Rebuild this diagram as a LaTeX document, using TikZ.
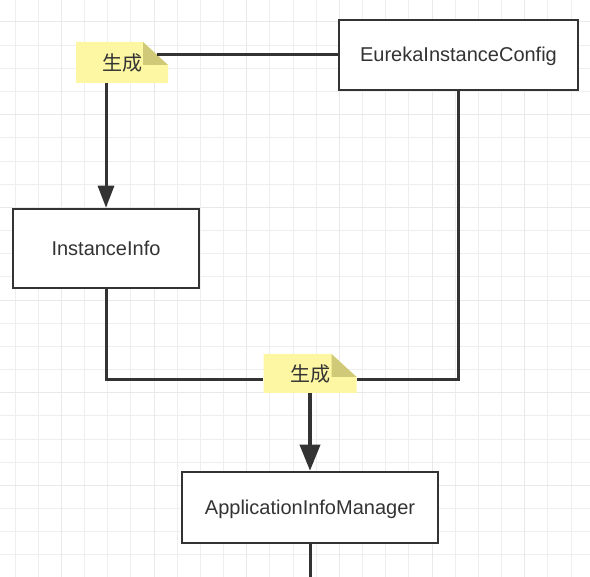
\documentclass[tikz,border=0pt]{standalone}
\usepackage{fontspec}
\setmainfont{Liberation Sans}
\newfontfamily\cjk{Noto Sans CJK SC}
\usetikzlibrary{arrows.meta}
\definecolor{linec}{HTML}{333333}
\definecolor{notefill}{HTML}{FDF6A3}
\definecolor{notefold}{HTML}{CFC978}
\definecolor{gridminor}{HTML}{EEEEEE}
\definecolor{gridmajor}{HTML}{E9E9E9}
\begin{document}
\begin{tikzpicture}[x=1pt,y=-1pt,
  box/.style={draw=linec, line width=2.5pt, fill=white, text=linec,
    font=\fontsize{20}{24}\selectfont, inner sep=0pt, text height=14pt, text depth=0pt},
  note/.style={inner sep=0pt, text=linec, font=\cjk\fontsize{20}{24}\selectfont,
    path picture={
      \fill[notefill] (path picture bounding box.north west)
        -- ([xshift=-25pt]path picture bounding box.north east)
        -- ([yshift=-23pt]path picture bounding box.north east)
        -- (path picture bounding box.south east)
        -- (path picture bounding box.south west) -- cycle;
      \fill[notefold] ([xshift=-25pt]path picture bounding box.north east)
        -- ([xshift=-25pt,yshift=-23pt]path picture bounding box.north east)
        -- ([yshift=-23pt]path picture bounding box.north east) -- cycle;}},
  conn/.style={draw=linec, line width=3pt},
  arr/.style={conn, -{Triangle[width=16pt,length=22pt]}},
  arrb/.style={draw=linec, line width=3.6pt, -{Triangle[width=20pt,length=26pt]}},
  gmin/.style={draw=gridminor, line width=1pt},
  gmaj/.style={draw=gridmajor, line width=1pt}]
\useasboundingbox (0,0) rectangle (590,577);
\fill[white] (0,0) rectangle (590,577);
% grid
\foreach \k in {-1,...,25} {
  \pgfmathsetmacro\xx{15+23.17*\k}
  \pgfmathsetmacro\yy{22+23.17*\k}
  \draw[gmin] (\xx,0) -- (\xx,577);
  \draw[gmin] (0,\yy) -- (590,\yy);
}
\foreach \k in {2,6,10,14,18,22} {
  \pgfmathsetmacro\xx{15+23.17*\k}
  \draw[gmaj] (\xx,0) -- (\xx,577);
}
\foreach \k in {0,4,8,12,16,20,24} {
  \pgfmathsetmacro\yy{22+23.17*\k}
  \draw[gmaj] (0,\yy) -- (590,\yy);
}
% nodes
\node[box, minimum width=239pt, minimum height=70pt] (cfg) at (458.5,55) {EurekaInstanceConfig};
\node[box, minimum width=186pt, minimum height=79pt] (ii) at (106,248.5) {InstanceInfo};
\node[box, minimum width=256pt, minimum height=71pt] (appm) at (310,507.5) {ApplicationInfoManager};
\node[note, minimum width=92pt, minimum height=41pt] (n1) at (122,62.5) {生成};
\node[note, minimum width=93pt, minimum height=39pt] (n2) at (310,373.5) {生成};
\coordinate (j) at (0,380);
\coordinate (bottomend) at (310,577);
% connectors
\draw[conn] (cfg.west) -- ([xshift=-11pt]cfg.west -| n1.east);
\draw[arr] (ii.north |- n1.south) -- (ii.north);
\draw[conn] (ii.south) -- (ii.south |- j) -- (n2.west |- j);
\draw[conn] (cfg.south) -- (cfg.south |- j) -- (n2.east |- j);
\draw[arrb] (appm.north |- n2.south) -- (appm.north);
\draw[conn] (appm.south) -- (bottomend);
\end{tikzpicture}
\end{document}
